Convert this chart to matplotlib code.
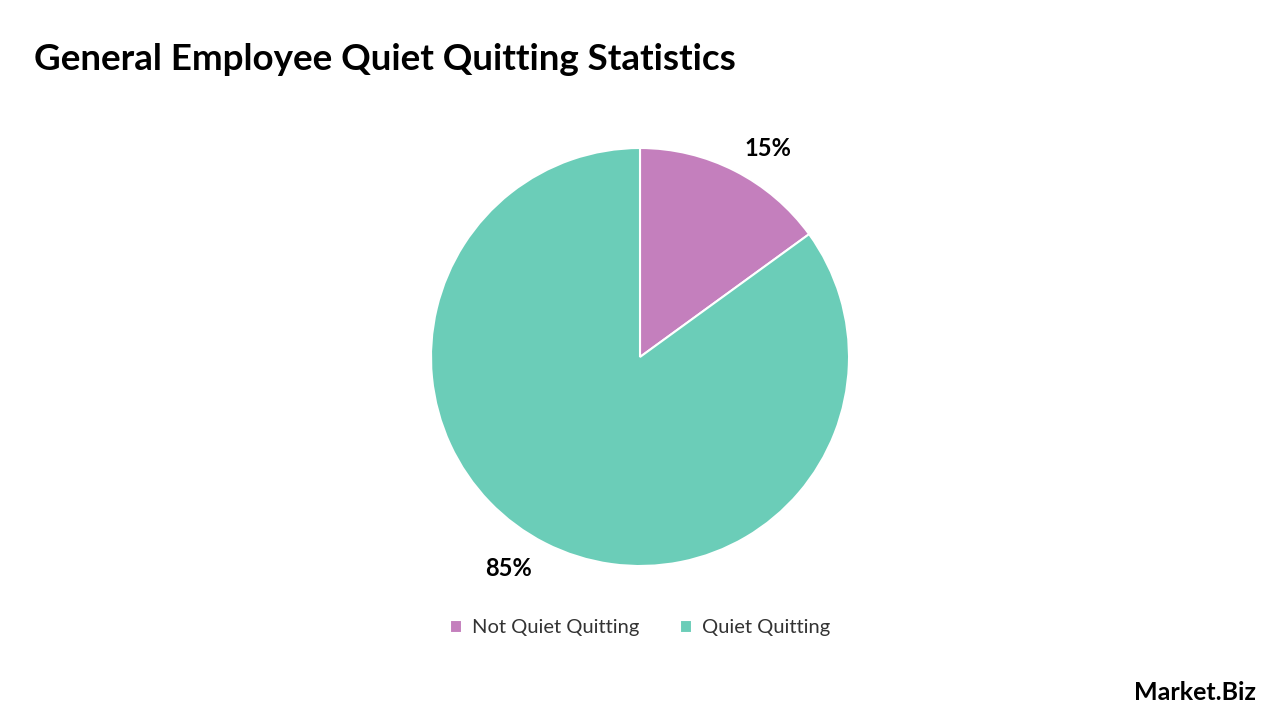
import matplotlib.pyplot as plt

categories = ['Not Quiet Quitting', 'Quiet Quitting']
values = [15, 85]
colors = ['#C47FBD', '#6BCDB8']

plt.rcParams['font.family'] = ['Lato', 'DejaVu Sans']

fig = plt.figure(figsize=(12.8, 7.2), dpi=100)
fig.text(34 / 1280, 1 - 60 / 720, 'General Employee Quiet Quitting Statistics',
         fontsize=26.5, fontweight='bold', va='center', ha='left', color='black')

r = 209
ax = fig.add_axes([(640 - r) / 1280, (720 - 357 - r) / 720, 2 * r / 1280, 2 * r / 720])
wedges, texts, autotexts = ax.pie(values, colors=colors, startangle=90, counterclock=False,
                                  autopct='%d%%', pctdistance=1.2,
                                  wedgeprops=dict(edgecolor='white', linewidth=1.5))
for t in autotexts:
    t.set_fontsize(17)
    t.set_fontweight('bold')
autotexts[0].set_position((0.61, 1.0))
autotexts[1].set_position((-0.63, -1.01))
ax.set_xlim(-1, 1)
ax.set_ylim(-1, 1)
ax.set_aspect('auto')
ax.axis('off')

fig.legend(wedges, categories, loc='center', bbox_to_anchor=(0.5, 1 - 628 / 720),
           ncol=2, frameon=False, fontsize=14.5, handlelength=0.6, handleheight=0.6,
           columnspacing=2.0, handletextpad=0.5, labelcolor='#333333')

fig.text(1256 / 1280, 1 - 692 / 720, 'Market.Biz', fontsize=18, fontweight='bold',
         ha='right', va='center')

fig.savefig('out.png', dpi=100, facecolor='white')
